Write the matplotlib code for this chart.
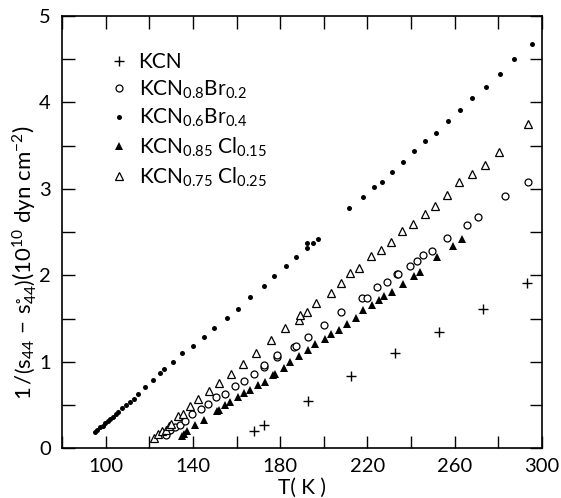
import numpy as np
import matplotlib
matplotlib.use("Agg")
import matplotlib.pyplot as plt
from matplotlib.ticker import FixedLocator, NullFormatter

plt.rcParams['font.family'] = ['Lato', 'DejaVu Sans']
plt.rcParams['mathtext.fontset'] = 'custom'
plt.rcParams['mathtext.rm'] = 'Lato'
plt.rcParams['mathtext.it'] = 'Lato'
plt.rcParams['mathtext.default'] = 'regular'

# KCN
t_kcn = [168.2, 172.6, 192.8, 212.4, 232.7, 253.0, 273.1, 293.0]
y_kcn = [0.20, 0.27, 0.55, 0.84, 1.10, 1.34, 1.61, 1.91]

# KCN0.8 Br0.2
t_br02 = [127.9, 129.7, 132.0, 134.0, 136.3, 139.7, 143.5, 147.0, 150.8, 154.9,
          159.2, 163.3, 167.9, 172.4, 172.4, 178.5, 178.5, 186.5, 187.4, 192.6,
          200.3, 208.0, 217.4, 220.0, 224.3, 228.9, 233.5, 234.2, 239.3, 242.6,
          245.7, 249.5, 256.4, 265.5, 270.8, 283.1, 293.7]
y_br02 = [0.156, 0.206, 0.245, 0.268, 0.309, 0.39, 0.453, 0.514, 0.598, 0.629,
          0.725, 0.783, 0.86, 0.938, 0.96, 1.053, 1.08, 1.169, 1.18, 1.29,
          1.423, 1.578, 1.743, 1.743, 1.859, 1.922, 2.01, 2.02, 2.11, 2.165,
          2.235, 2.28, 2.434, 2.58, 2.677, 2.916, 3.08]

# KCN0.6 Br0.4
t_br04 = [95.0, 96.2, 97.4, 98.6, 99.8, 101.0, 102.2, 103.4, 104.6, 105.8,
          107.6, 109.3, 111.0, 113.0, 115.0, 118.0, 121.8, 124.9, 126.9, 130.8,
          135.1, 140.0, 145.0, 149.9, 155.5, 160.5, 166.4, 172.4, 177.2, 182.8,
          187.4, 192.3, 192.3, 194.9, 197.2,
          211.4, 217.8, 222.8, 226.9, 231.5, 236.4, 241.3, 246.6, 251.6, 257.1,
          262.6, 268.1, 274.5, 280.8, 287.2, 295.3]
y_br04 = [0.19, 0.21, 0.24, 0.26, 0.29, 0.31, 0.34, 0.36, 0.39, 0.42,
          0.464, 0.50, 0.529, 0.572, 0.626, 0.707, 0.791, 0.868, 0.915, 0.995,
          1.099, 1.187, 1.284, 1.391, 1.503, 1.611, 1.746, 1.876, 1.988, 2.107,
          2.215, 2.319, 2.37, 2.37, 2.42,
          2.777, 2.90, 3.016, 3.08, 3.196, 3.308, 3.435, 3.551, 3.643, 3.785,
          3.909, 4.047, 4.178, 4.325, 4.506, 4.671]

# KCN0.85 Cl0.15
t_cl15 = [135.1, 135.8, 137.4, 140.9, 145.3, 151.1, 151.8, 154.9, 157.2, 160.5,
          163.6, 166.0, 169.7, 172.9, 176.8, 177.8, 181.6, 184.3, 188.6, 192.8,
          196.1, 200.7, 203.4, 206.8, 210.6, 214.8, 218.2, 222.1, 225.1, 227.8,
          231.2, 236.2, 241.4, 244.0, 251.9, 259.4, 263.3]
y_cl15 = [0.136, 0.167, 0.194, 0.263, 0.321, 0.425, 0.445, 0.502, 0.54, 0.591,
          0.637, 0.676, 0.73, 0.764, 0.841, 0.86, 0.933, 0.995, 1.068, 1.137,
          1.207, 1.261, 1.319, 1.368, 1.438, 1.503, 1.594, 1.654, 1.72, 1.761,
          1.807, 1.894, 1.992, 2.042, 2.208, 2.342, 2.416]

# KCN0.75 Cl0.25
t_cl25 = [122.1, 123.9, 125.9, 127.5, 129.0, 130.0, 133.1, 135.4, 138.6, 142.4,
          147.3, 152.2, 157.7, 163.0, 169.1, 175.8, 182.1, 188.5, 189.2, 192.3,
          196.4, 203.4, 207.8, 212.1, 216.2, 221.7, 226.1, 230.8, 235.8, 241.1,
          246.5, 251.0, 256.4, 261.8, 267.8, 273.9, 280.2, 293.7]
y_cl25 = [0.118, 0.167, 0.194, 0.214, 0.252, 0.275, 0.367, 0.395, 0.483, 0.572,
          0.656, 0.753, 0.857, 0.972, 1.106, 1.253, 1.388, 1.484, 1.542, 1.57,
          1.684, 1.796, 1.911, 2.023, 2.088, 2.223, 2.298, 2.39, 2.51, 2.596,
          2.704, 2.804, 2.931, 3.074, 3.173, 3.277, 3.424, 3.755]

fig = plt.figure(figsize=(5.61, 4.98), dpi=100)
ax = fig.add_axes([0.1105, 0.1, 0.8555, 0.868])

ax.plot(t_kcn, y_kcn, '+', color='black', ms=6.5, mew=1.0, label='KCN')
ax.plot(t_br02, y_br02, 'o', mfc='white', mec='black', ms=5, mew=0.9,
        label=r'KCN$_{0.8}$Br$_{0.2}$')
ax.plot(t_br04, y_br04, 'o', color='black', ms=3.6, mew=0,
        label=r'KCN$_{0.6}$Br$_{0.4}$')
ax.plot(t_cl15, y_cl15, '^', color='black', ms=5.5, mew=0,
        label=r'KCN$_{0.85}$ Cl$_{0.15}$')
ax.plot(t_cl25, y_cl25, '^', mfc='white', mec='black', ms=5.5, mew=0.9,
        label=r'KCN$_{0.75}$ Cl$_{0.25}$')

ax.set_xlim(80, 300)
ax.set_ylim(0, 5)
ax.xaxis.set_major_locator(FixedLocator([100, 140, 180, 220, 260, 300]))
ax.xaxis.set_minor_locator(FixedLocator([80, 120, 160, 200, 240, 280]))
ax.yaxis.set_major_locator(FixedLocator([0, 1, 2, 3, 4, 5]))
ax.yaxis.set_minor_locator(FixedLocator([0.5, 1.5, 2.5, 3.5, 4.5]))
ax.xaxis.set_minor_formatter(NullFormatter())
ax.yaxis.set_minor_formatter(NullFormatter())
ax.tick_params(which='both', direction='in', length=9, width=1.0,
               top=True, right=True, labelsize=14.5)
ax.tick_params(axis='x', pad=7)
ax.tick_params(axis='y', pad=8)
for s in ax.spines.values():
    s.set_linewidth(1.2)

ax.set_xlabel('T( K )', fontsize=15, labelpad=2)
ax.set_ylabel(r'$1\,/\left(s_{44}\,-\,s^{\circ}_{44}\right)\left(10^{10}\ dyn\ cm^{-2}\right)$',
              fontsize=16, va='center')
ax.yaxis.set_label_coords(-0.078, 0.43)

ax.legend(loc='upper left', bbox_to_anchor=(0.075, 0.935), frameon=False,
          fontsize=15, handletextpad=0.35, labelspacing=0.3, handlelength=1.2,
          borderaxespad=0)

fig.savefig('out.png', dpi=100)
